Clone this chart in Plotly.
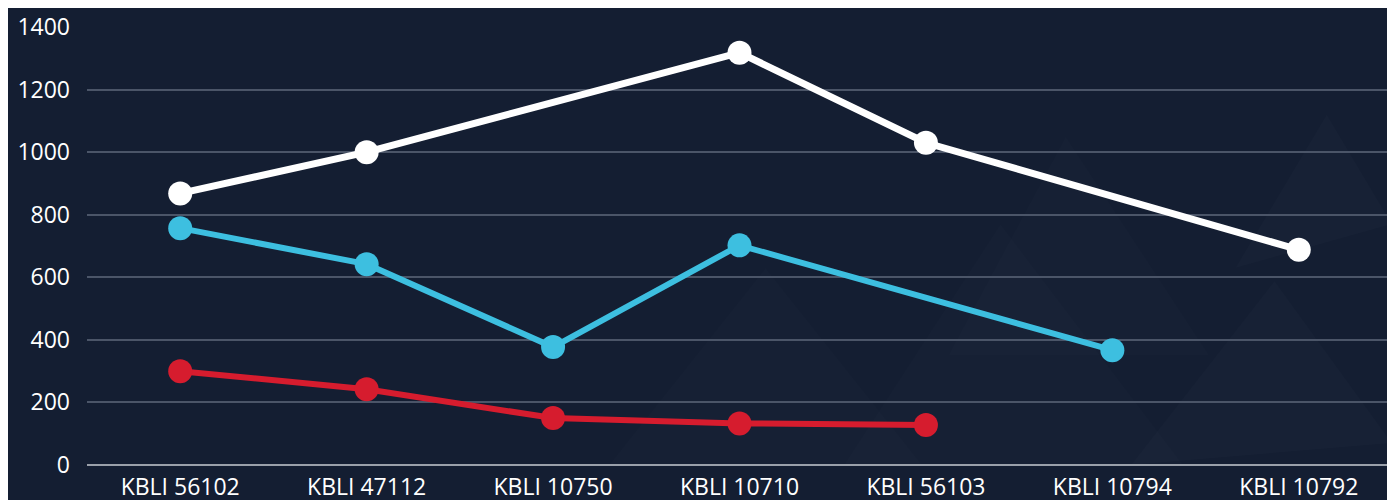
import plotly.graph_objects as go

categories = ["KBLI 56102", "KBLI 47112", "KBLI 10750", "KBLI 10710", "KBLI 56103", "KBLI 10794", "KBLI 10792"]
white_vals = [868, 1000, None, 1318, 1030, None, 688]
blue_vals = [757, 642, 377, 702, None, 367, None]
red_vals = [300, 242, 150, 133, 128, None, None]
y_ticks = [0, 200, 400, 600, 800, 1000, 1200, 1400]

BG = "#141e32"
fig = go.Figure()

series = [
    ("white", white_vals, "#ffffff", 7),
    ("blue", blue_vals, "#3dbfe0", 6),
    ("red", red_vals, "#d61c2e", 6),
]
for name, vals, col, w in series:
    fig.add_trace(go.Scatter(
        x=categories, y=vals, name=name, mode="lines+markers",
        connectgaps=True, cliponaxis=False,
        line=dict(color=col, width=w),
        marker=dict(color=col, size=24),
        showlegend=False,
    ))

# very subtle background triangles (decorative)
tri = [
    ("M 0.40 0 L 0.52 0.45 L 0.64 0 Z", "rgba(255,255,255,0.010)"),
    ("M 0.58 0 L 0.70 0.55 L 0.84 0 Z", "rgba(255,255,255,0.012)"),
    ("M 0.66 0.25 L 0.75 0.75 L 0.86 0.25 Z", "rgba(255,255,255,0.012)"),
    ("M 0.80 0 L 0.91 0.42 L 1.0 0.05 Z", "rgba(255,255,255,0.014)"),
    ("M 0.88 0.45 L 0.95 0.80 L 1.0 0.55 Z", "rgba(255,255,255,0.014)"),
]
for path, fc in tri:
    fig.add_shape(type="path", path=path, xref="paper", yref="paper",
                  fillcolor=fc, line=dict(width=0), layer="below")

fig.update_layout(
    width=1395, height=500,
    paper_bgcolor=BG, plot_bgcolor=BG,
    margin=dict(l=79, r=11, t=19, b=43),
    font=dict(family="Open Sans, sans-serif", color="#ffffff", size=23),
    xaxis=dict(
        type="category", showgrid=False, zeroline=False, showline=False,
        tickfont=dict(size=23, color="#ffffff"), ticks="", ticklen=0,
        ticklabelstandoff=6,
        range=[-0.5, 6.5], automargin=False,
    ),
    yaxis=dict(
        range=[0, 1400], tickvals=y_ticks, showgrid=True,
        gridcolor="#4b5568", gridwidth=1.5,
        zeroline=True, zerolinecolor="#9aa0aa", zerolinewidth=2,
        tickfont=dict(size=23, color="#ffffff"), ticks="", ticklen=0,
        ticklabelstandoff=16,
        showline=False, automargin=False,
    ),
)

fig.write_html("out.html")
